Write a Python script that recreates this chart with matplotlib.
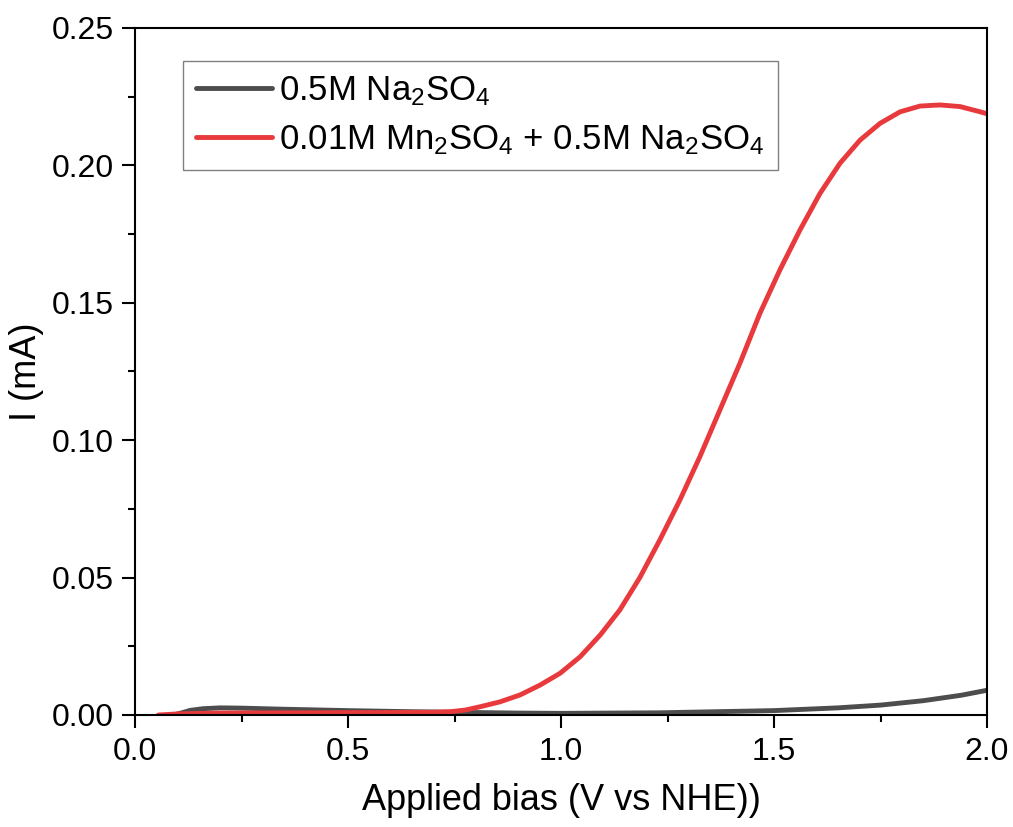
import numpy as np
import matplotlib
matplotlib.use("Agg")
from matplotlib import pyplot as plt
from matplotlib.ticker import MultipleLocator, FormatStrFormatter

plt.rcParams['font.family'] = ['Liberation Sans', 'DejaVu Sans']
plt.rcParams['mathtext.default'] = 'regular'

# данные
v_na = [0.09, 0.11, 0.13, 0.16, 0.2, 0.25, 0.35, 0.5, 0.65, 0.75, 0.9, 1.0, 1.23,
        1.5, 1.65, 1.75, 1.85, 1.94, 2.0]
i_na = [0.0, 0.0008, 0.0017, 0.0023, 0.0026, 0.0025, 0.0021, 0.0016, 0.0012, 0.001,
        0.0007, 0.0006, 0.0008, 0.0016, 0.0026, 0.0036, 0.0052, 0.0072, 0.0090]

v_mn = [0.055, 0.1, 0.2, 0.4, 0.6, 0.7, 0.74, 0.775, 0.81, 0.857, 0.904, 0.951, 0.998,
        1.045, 1.092, 1.138, 1.185, 1.232, 1.279, 1.326, 1.373, 1.42, 1.467, 1.514,
        1.561, 1.608, 1.655, 1.702, 1.749, 1.796, 1.843, 1.89, 1.937, 1.984, 2.0]
i_mn = [0.0, 0.0004, 0.0007, 0.0008, 0.0009, 0.001, 0.0012, 0.0018, 0.003, 0.0048,
        0.0073, 0.0109, 0.0152, 0.0212, 0.0291, 0.0382, 0.05, 0.0637, 0.0782, 0.094,
        0.111, 0.128, 0.1462, 0.162, 0.1765, 0.1898, 0.2008, 0.2092, 0.2153, 0.2195,
        0.2216, 0.222, 0.2214, 0.2195, 0.2188]

labels = [r'0.5M Na$_2$SO$_4$', r'0.01M Mn$_2$SO$_4$ + 0.5M Na$_2$SO$_4$']

fig = plt.figure(figsize=(10.13, 8.27), dpi=100)
ax = fig.add_axes([135/1013, 1-715/827, 852/1013, 687/827])

ax.plot(v_na, i_na, color='#4d4d4d', lw=3.5, label=labels[0], solid_capstyle='round')
ax.plot(v_mn, i_mn, color='#e8393d', lw=3.5, label=labels[1], solid_capstyle='round')

ax.set_xlim(0, 2.0)
ax.set_ylim(0, 0.25)
ax.xaxis.set_major_locator(MultipleLocator(0.5))
ax.xaxis.set_minor_locator(MultipleLocator(0.25))
ax.yaxis.set_major_locator(MultipleLocator(0.05))
ax.yaxis.set_minor_locator(MultipleLocator(0.025))
ax.xaxis.set_major_formatter(FormatStrFormatter('%.1f'))
ax.yaxis.set_major_formatter(FormatStrFormatter('%.2f'))

ax.tick_params(which='both', direction='out', width=1.5, labelsize=23, top=False, right=False)
ax.tick_params(which='major', length=9.5, pad=6)
ax.tick_params(which='minor', length=5)
for s in ax.spines.values():
    s.set_linewidth(1.5)

ax.set_xlabel('Applied bias (V vs NHE))', fontsize=26, labelpad=12)
ax.set_ylabel('I (mA)', fontsize=26, labelpad=5)

leg = ax.legend(loc='upper left', bbox_to_anchor=(0.056, 0.952), borderaxespad=0,
                fontsize=25, handlelength=2.2, handletextpad=0.2, labelspacing=0.45,
                borderpad=0.38, fancybox=False, edgecolor='#808080', framealpha=1)
leg.get_frame().set_linewidth(1.0)

plt.savefig("out.png", dpi=100)
